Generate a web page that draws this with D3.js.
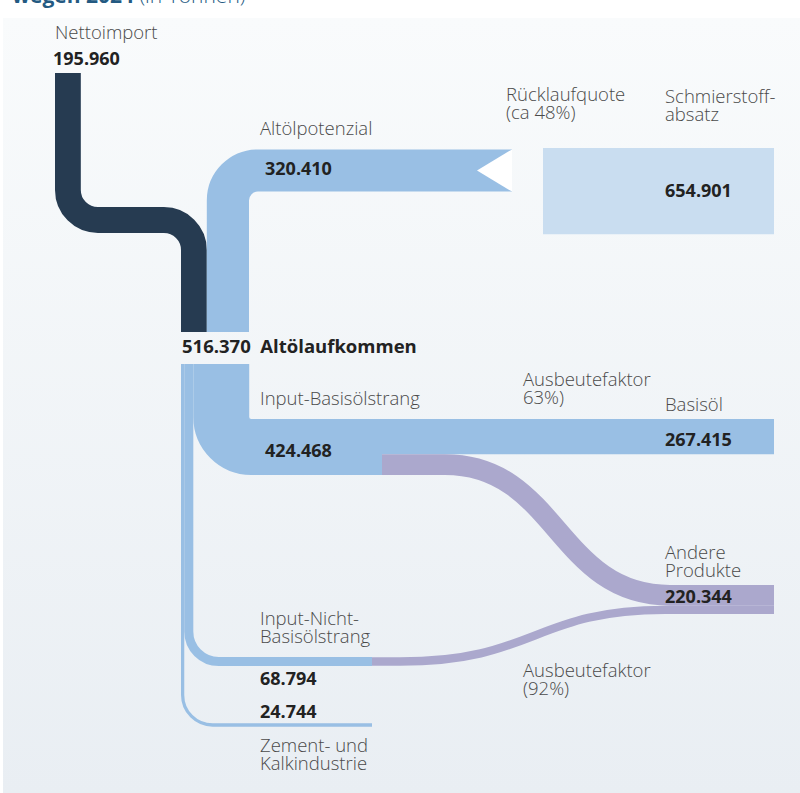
<!DOCTYPE html>
<html><head><meta charset="utf-8">
<script src="https://cdn.jsdelivr.net/npm/d3@7"></script>
<style>
html,body{margin:0;padding:0;background:#fff;}
svg{display:block;}
text{font-family:"Open Sans",sans-serif;}
</style></head>
<body>
<svg id="chart" width="800" height="793"></svg>
<script>
// ---------- data ----------
const nodeNames = ["Nettoimport","Altölpotenzial","Altölaufkommen","Input-Basisölstrang","Input-Nicht-Basisölstrang","Zement- und Kalkindustrie","Basisöl","Andere Produkte","Schmierstoffabsatz"];
const nodeValues = [195960, 320410, 516370, 424468, 68794, 24744, 267415, 220344, 654901];
const basisToAndere = 157053;
const nichtToAndere = 63291;
const ratioLabels = [["Rücklaufquote","(ca 48%)"],["Ausbeutefaktor","63%)"],["Ausbeutefaktor","(92%)"]];
const titleParts = ["wegen 2024", " (in Tonnen)"];

// ---------- setup ----------
const svg = d3.select("#chart");
const de = d3.formatLocale({decimal:",", thousands:".", grouping:[3], currency:["","€"]});
const fmt = de.format(",d");
const val = name => nodeValues[nodeNames.indexOf(name)];
const w = d3.scaleLinear().domain([0, val("Altölaufkommen")]).range([0, 68]);

const C = {dark:"#263b51", blue:"#99bfe4", box:"#c9ddf0", purple:"#aba8cd", txt:"#4a4a4a", num:"#222"};

// background panel
const defs = svg.append("defs");
const g = defs.append("linearGradient").attr("id","bg").attr("x1",0).attr("y1",0).attr("x2",0).attr("y2",1);
g.append("stop").attr("offset",0).attr("stop-color","#f9fbfc");
g.append("stop").attr("offset",1).attr("stop-color","#e9eef3");
svg.append("rect").attr("x",3).attr("y",18).attr("width",797).attr("height",775).attr("fill","url(#bg)");

// title (cut off at top, as in the reference)
const tt = svg.append("text").attr("x",12).attr("y",3).attr("font-size",21).attr("fill","#245a82");
tt.append("tspan").attr("font-weight",700).text(titleParts[0]);
tt.append("tspan").attr("font-weight",300).text(titleParts[1]);

function rounded(pts, r){
  const p = d3.path();
  p.moveTo(pts[0][0], pts[0][1]);
  for(let i=1;i<pts.length-1;i++) p.arcTo(pts[i][0],pts[i][1],pts[i+1][0],pts[i+1][1], r);
  const l = pts[pts.length-1]; p.lineTo(l[0], l[1]);
  return p.toString();
}
function band(d, width, color){
  svg.append("path").attr("d", d).attr("fill","none").attr("stroke",color)
    .attr("stroke-width", width).attr("stroke-linecap","butt");
}
const R = 30;

// junction column
const colX = 181, joinTop = 332, joinBot = 364;

// Nettoimport (dark)
const wN = w(val("Nettoimport"));
band(rounded([[55+wN/2,73],[55+wN/2,220],[colX+wN/2,220],[colX+wN/2,joinTop]], R), wN, C.dark);

// Altölpotenzial
const wA = w(val("Altölpotenzial"));
const xA = colX + wN + wA/2, yA = 149.4 + wA/2, xAend = 512;
band(rounded([[xA,joinTop],[xA,yA],[xAend,yA]], R), wA, C.blue);
svg.append("path").attr("fill","#fff")
  .attr("d", `M${xAend},${yA-wA/2}L${xAend-35},${yA}L${xAend},${yA+wA/2}Z`);

// Schmierstoffabsatz box
svg.append("rect").attr("x",543).attr("y",148).attr("width",231)
  .attr("height", w(val("Schmierstoffabsatz"))).attr("fill",C.box);

// bottom flows
const wZ = w(val("Zement- und Kalkindustrie"));
const wI = w(val("Input-Nicht-Basisölstrang"));
const wB = w(val("Input-Basisölstrang"));
const xZ = colX + wZ/2, xI = colX + wZ + wI/2, xB = colX + wZ + wI + wB/2;
const yBtop = 419, yB = yBtop + wB/2, xBend = 382;
band(rounded([[xB,joinBot],[xB,yB],[xBend,yB]], R), wB, C.blue);
const yI = 657 + wI/2, yZ = 725;
band(rounded([[xI,joinBot],[xI,yI],[372,yI]], R), wI, C.blue);
band(rounded([[xZ,joinBot],[xZ,yZ],[372,yZ]], R), wZ, C.blue);

// Basisöl
const wBo = w(val("Basisöl"));
band(`M${xBend},${yBtop+wBo/2}L774,${yBtop+wBo/2}`, wBo, C.blue);

// Andere Produkte flows
const wP1 = w(basisToAndere), wP2 = w(nichtToAndere);
const yP1s = yBtop + wBo + wP1/2;
const yAnd = 585;
const yP1e = yAnd + wP1/2, yP2e = yAnd + wP1 + wP2/2;
band(`M${xBend},${yP1s}L445,${yP1s}C557,${yP1s} 557,${yP1e} 670,${yP1e}L774,${yP1e}`, wP1, C.purple);
band(`M372,${yI}L400,${yI}C535,${yI} 535,${yP2e} 665,${yP2e}L774,${yP2e}`, wP2, C.purple);

// ---------- labels ----------
function lbl(x, y, lines, bold, size){
  lines.forEach((s,i)=> svg.append("text").attr("x",x).attr("y",y + i*17.5)
    .attr("font-size", size || (bold?18:18.5))
    .attr("font-weight", bold?700:300)
    .attr("fill", bold?C.num:C.txt).text(s));
}
lbl(55, 39, ["Nettoimport"]);
lbl(53, 65, [fmt(val("Nettoimport"))], true);
lbl(260, 135, ["Altölpotenzial"]);
lbl(265, 175, [fmt(val("Altölpotenzial"))], true);
lbl(506, 101, ratioLabels[0]);
lbl(665, 103, ["Schmierstoff-","absatz"]);
lbl(665, 197, [fmt(val("Schmierstoffabsatz"))], true);
lbl(182, 353, [fmt(val("Altölaufkommen")) + "\u00a0 Altölaufkommen"], true, 18.5);
lbl(260, 405, ["Input-Basisölstrang"]);
lbl(265, 457, [fmt(val("Input-Basisölstrang"))], true);
lbl(523, 386, ratioLabels[1]);
lbl(665, 411, ["Basisöl"]);
lbl(665, 446, [fmt(val("Basisöl"))], true);
lbl(665, 559, ["Andere","Produkte"]);
lbl(665, 603, [fmt(val("Andere Produkte"))], true);
lbl(260, 625, ["Input-Nicht-","Basisölstrang"]);
lbl(260, 685, [fmt(val("Input-Nicht-Basisölstrang"))], true);
lbl(260, 718, [fmt(val("Zement- und Kalkindustrie"))], true);
lbl(260, 752, ["Zement- und","Kalkindustrie"]);
lbl(523, 677, ratioLabels[2]);
</script>
</body></html>
